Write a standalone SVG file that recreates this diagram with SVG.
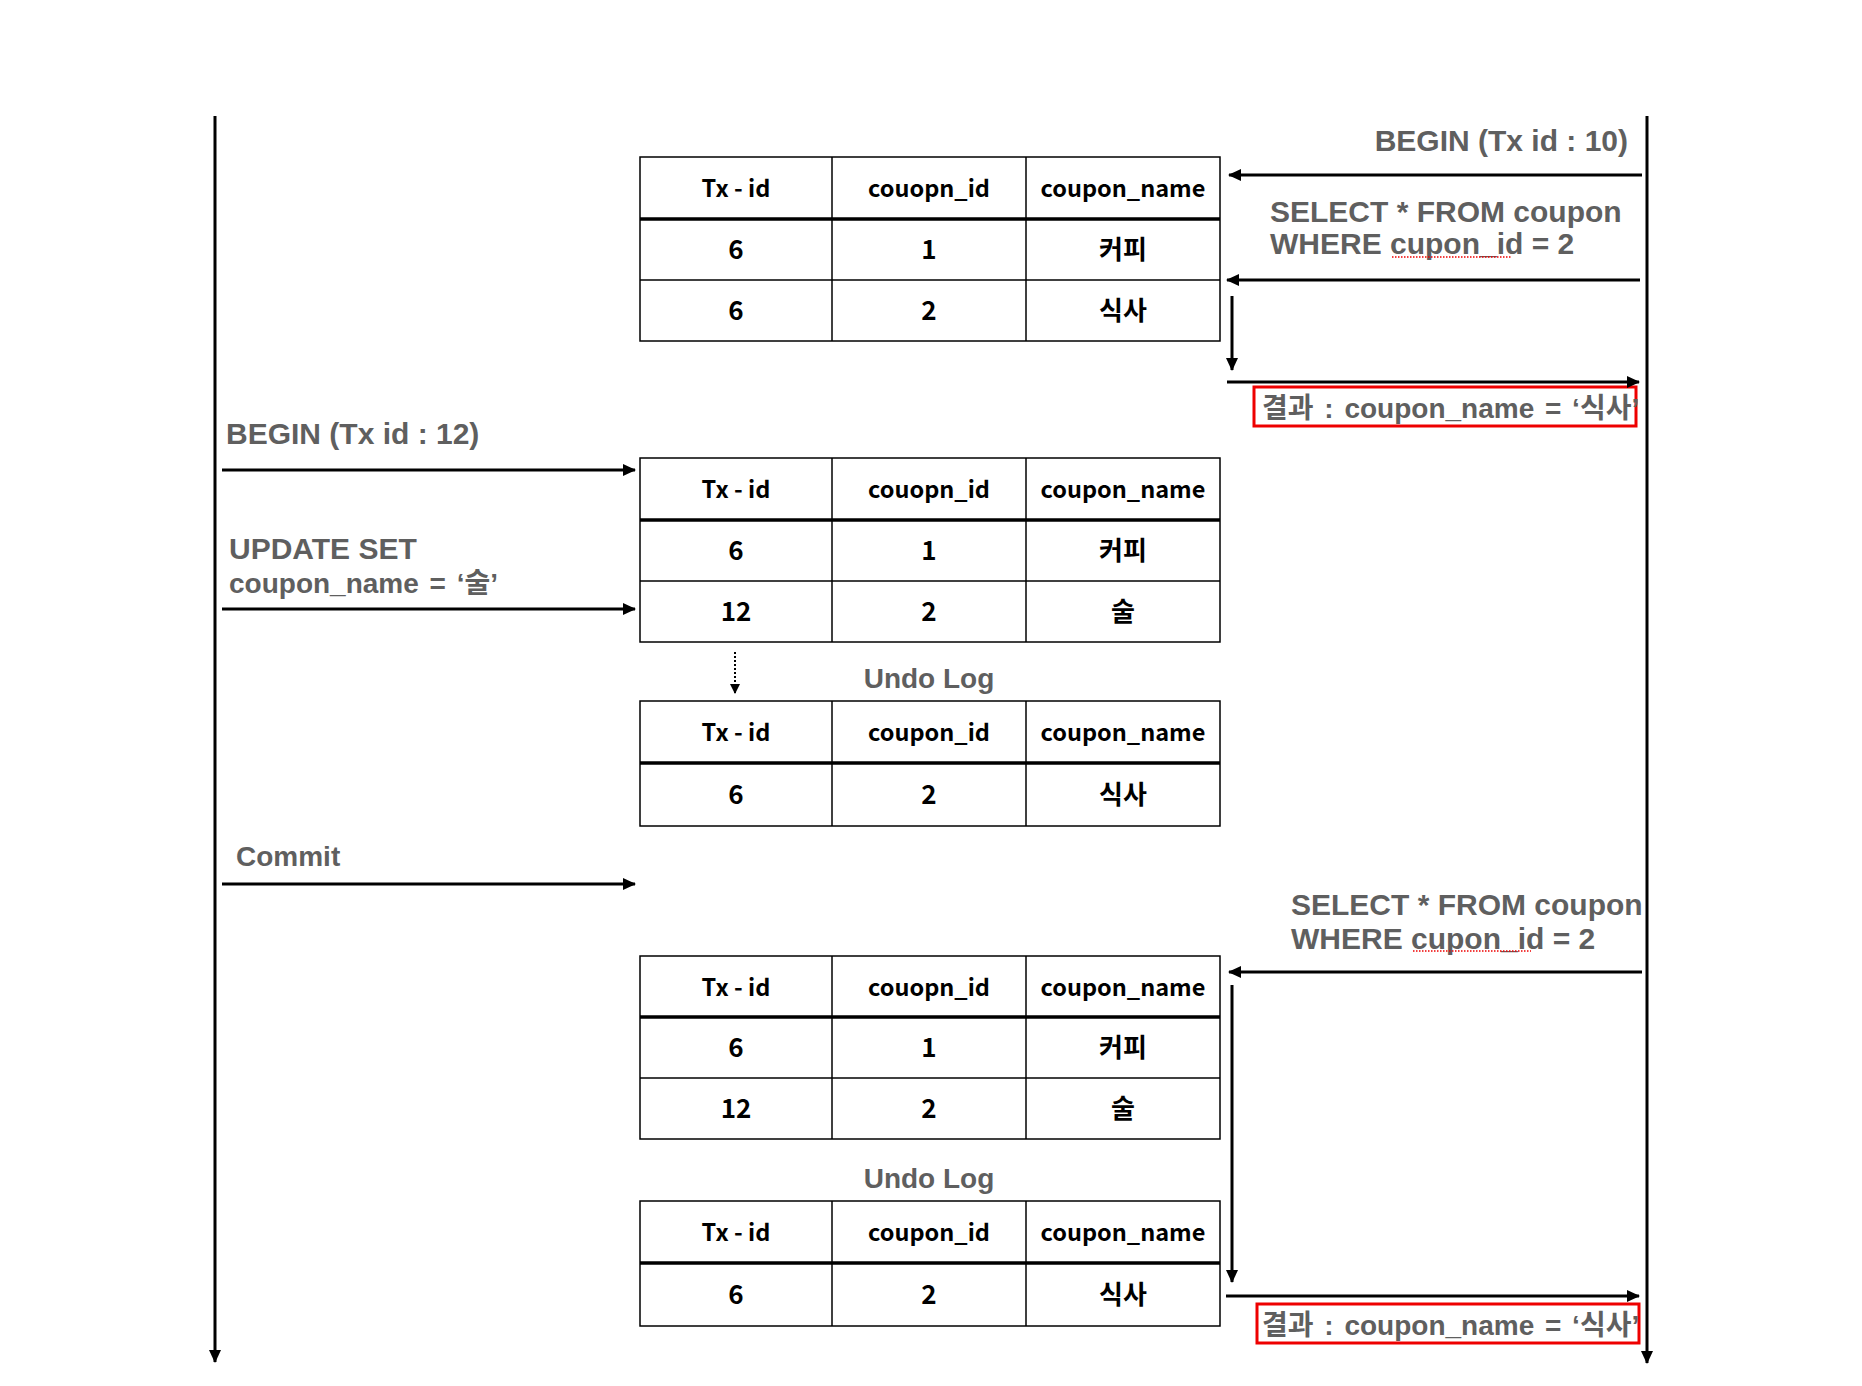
<svg xmlns="http://www.w3.org/2000/svg" width="1862" height="1386" viewBox="0 0 1862 1386">
<style>
.bg{fill:#ffffff}
.cell{fill:#ffffff;stroke:#000;stroke-width:1.5}
.thin{stroke:#000;stroke-width:1.5}
.thick{stroke:#000;stroke-width:3.5}
.tt{font-family:"Noto Sans CJK KR","Liberation Sans",sans-serif;font-weight:bold;font-size:23.5px;fill:#000;text-anchor:middle}
.td{font-family:"Noto Sans CJK KR","Liberation Sans",sans-serif;font-weight:bold;font-size:26px;fill:#000;text-anchor:middle}
.gl{font-family:"Liberation Sans","Noto Sans CJK KR",sans-serif;font-weight:bold;font-size:30px;fill:#5f5f5f}
.gs{font-family:"Liberation Sans","Noto Sans CJK KR",sans-serif;font-weight:bold;font-size:28px;fill:#5f5f5f}
.conn{stroke:#000;stroke-width:3;fill:none}
.life{stroke:#000;stroke-width:3;fill:none}
.dot{stroke:#000;stroke-width:2;stroke-dasharray:2 2;fill:none}
.res{fill:none;stroke:#ee0000;stroke-width:3}
.sq{stroke:#e00;stroke-width:1.5;stroke-dasharray:1.5 1.5;fill:none}
</style>
<defs>
<marker id="ah" markerUnits="userSpaceOnUse" markerWidth="13" markerHeight="12" refX="12" refY="6" orient="auto">
<path d="M0,0 L13,6 L0,12 z" fill="#000"/>
</marker>
<marker id="ahs" markerUnits="userSpaceOnUse" markerWidth="10" markerHeight="10" refX="9" refY="5" orient="auto">
<path d="M0,0 L10,5 L0,10 z" fill="#000"/>
</marker>
</defs>
<rect class="bg" x="0" y="0" width="1862" height="1386"/>

<g id="lifelines">
<line class="life" x1="215" y1="116" x2="215" y2="1362" marker-end="url(#ah)"/>
<line class="life" x1="1647" y1="116" x2="1647" y2="1363" marker-end="url(#ah)"/>
</g>

<g id="table1">
<rect class="cell" x="640" y="157" width="580" height="184"/>
<line class="thin" x1="832" y1="157" x2="832" y2="341"/>
<line class="thin" x1="1026" y1="157" x2="1026" y2="341"/>
<line class="thick" x1="640" y1="219" x2="1220" y2="219"/>
<line class="thin" x1="640" y1="280" x2="1220" y2="280"/>
<text class="tt" x="736" y="197">Tx - id</text>
<text class="tt" x="929" y="197">couopn_id</text>
<text class="tt" x="1123" y="197">coupon_name</text>
<text class="td" x="736" y="259">6</text>
<text class="td" x="929" y="259">1</text>
<text class="td" x="1123" y="259">커피</text>
<text class="td" x="736" y="320">6</text>
<text class="td" x="929" y="320">2</text>
<text class="td" x="1123" y="320">식사</text>
</g>

<g id="table2">
<rect class="cell" x="640" y="458" width="580" height="184"/>
<line class="thin" x1="832" y1="458" x2="832" y2="642"/>
<line class="thin" x1="1026" y1="458" x2="1026" y2="642"/>
<line class="thick" x1="640" y1="520" x2="1220" y2="520"/>
<line class="thin" x1="640" y1="581" x2="1220" y2="581"/>
<text class="tt" x="736" y="498">Tx - id</text>
<text class="tt" x="929" y="498">couopn_id</text>
<text class="tt" x="1123" y="498">coupon_name</text>
<text class="td" x="736" y="560">6</text>
<text class="td" x="929" y="560">1</text>
<text class="td" x="1123" y="560">커피</text>
<text class="td" x="736" y="621">12</text>
<text class="td" x="929" y="621">2</text>
<text class="td" x="1123" y="621">술</text>
</g>

<g id="undo1">
<text class="gs" x="929" y="688" text-anchor="middle">Undo Log</text>
<rect class="cell" x="640" y="701" width="580" height="125"/>
<line class="thin" x1="832" y1="701" x2="832" y2="826"/>
<line class="thin" x1="1026" y1="701" x2="1026" y2="826"/>
<line class="thick" x1="640" y1="763" x2="1220" y2="763"/>
<text class="tt" x="736" y="741">Tx - id</text>
<text class="tt" x="929" y="741">coupon_id</text>
<text class="tt" x="1123" y="741">coupon_name</text>
<text class="td" x="736" y="804">6</text>
<text class="td" x="929" y="804">2</text>
<text class="td" x="1123" y="804">식사</text>
</g>

<g id="table3">
<rect class="cell" x="640" y="956" width="580" height="183"/>
<line class="thin" x1="832" y1="956" x2="832" y2="1139"/>
<line class="thin" x1="1026" y1="956" x2="1026" y2="1139"/>
<line class="thick" x1="640" y1="1017" x2="1220" y2="1017"/>
<line class="thin" x1="640" y1="1078" x2="1220" y2="1078"/>
<text class="tt" x="736" y="996">Tx - id</text>
<text class="tt" x="929" y="996">couopn_id</text>
<text class="tt" x="1123" y="996">coupon_name</text>
<text class="td" x="736" y="1057">6</text>
<text class="td" x="929" y="1057">1</text>
<text class="td" x="1123" y="1057">커피</text>
<text class="td" x="736" y="1118">12</text>
<text class="td" x="929" y="1118">2</text>
<text class="td" x="1123" y="1118">술</text>
</g>

<g id="undo2">
<text class="gs" x="929" y="1188" text-anchor="middle">Undo Log</text>
<rect class="cell" x="640" y="1201" width="580" height="125"/>
<line class="thin" x1="832" y1="1201" x2="832" y2="1326"/>
<line class="thin" x1="1026" y1="1201" x2="1026" y2="1326"/>
<line class="thick" x1="640" y1="1263" x2="1220" y2="1263"/>
<text class="tt" x="736" y="1241">Tx - id</text>
<text class="tt" x="929" y="1241">coupon_id</text>
<text class="tt" x="1123" y="1241">coupon_name</text>
<text class="td" x="736" y="1304">6</text>
<text class="td" x="929" y="1304">2</text>
<text class="td" x="1123" y="1304">식사</text>
</g>

<g id="tx10-labels">
<text class="gl" x="1628" y="151" text-anchor="end">BEGIN (Tx id : 10)</text>
<text class="gl" x="1270" y="222">SELECT * FROM coupon</text>
<text class="gl" x="1270" y="254">WHERE cupon_id = 2</text>
<line class="sq" x1="1392" y1="257" x2="1512" y2="257"/>
<text class="gl" x="1291" y="915">SELECT * FROM coupon</text>
<text class="gl" x="1291" y="949">WHERE cupon_id = 2</text>
<line class="sq" x1="1413" y1="951" x2="1531" y2="951"/>
</g>

<g id="result1">
<rect class="res" x="1254" y="387" width="382" height="39"/>
<text class="gs" x="1262" y="418" style="word-spacing:3px">결과 : coupon_name = ‘식사’</text>
</g>

<g id="result2">
<rect class="res" x="1257" y="1304" width="382" height="39"/>
<text class="gs" x="1262" y="1335" style="word-spacing:3px">결과 : coupon_name = ‘식사’</text>
</g>

<g id="tx12-labels">
<text class="gl" x="226" y="444">BEGIN (Tx id : 12)</text>
<text class="gl" x="229" y="559">UPDATE SET</text>
<text class="gs" x="229" y="593" style="word-spacing:3px">coupon_name = ‘술’</text>
<text class="gl" x="236" y="866" style="font-size:28px">Commit</text>
</g>

<g id="connectors">
<line class="conn" x1="1642" y1="175" x2="1229" y2="175" marker-end="url(#ah)"/>
<line class="conn" x1="1640" y1="280" x2="1227" y2="280" marker-end="url(#ah)"/>
<line class="conn" x1="1232" y1="296" x2="1232" y2="370" marker-end="url(#ah)"/>
<line class="conn" x1="1227" y1="382" x2="1639" y2="382" marker-end="url(#ah)"/>
<line class="conn" x1="222" y1="470" x2="635" y2="470" marker-end="url(#ah)"/>
<line class="conn" x1="222" y1="609" x2="635" y2="609" marker-end="url(#ah)"/>
<line class="dot" x1="735" y1="652" x2="735" y2="693" marker-end="url(#ahs)"/>
<line class="conn" x1="222" y1="884" x2="635" y2="884" marker-end="url(#ah)"/>
<line class="conn" x1="1642" y1="972" x2="1229" y2="972" marker-end="url(#ah)"/>
<line class="conn" x1="1232" y1="985" x2="1232" y2="1282" marker-end="url(#ah)"/>
<line class="conn" x1="1226" y1="1296" x2="1639" y2="1296" marker-end="url(#ah)"/>
</g>
</svg>
